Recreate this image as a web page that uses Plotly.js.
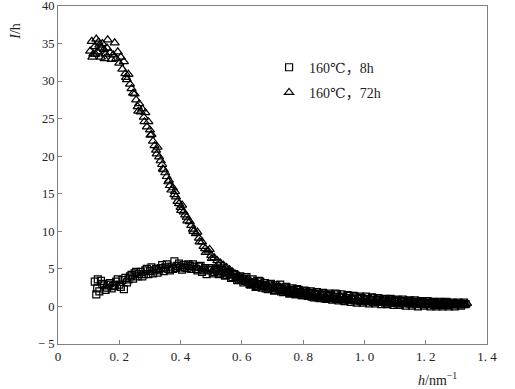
<!DOCTYPE html>
<html>
<head>
<meta charset="utf-8">
<script src="https://cdn.plot.ly/plotly-3.0.1.min.js"></script>
<style>html,body{margin:0;padding:0;background:#fff;}#chart{width:515px;height:389px;}</style>
</head>
<body>
<div id="chart"></div>
<script>
// Series 1: 160℃, 8h (squares)
const hSquare = [0.12,0.125,0.13,0.135,0.14,0.15,0.16,0.17,0.18,0.19,0.20,0.21,0.215,0.22,0.23,0.24,0.25,0.26,0.27,0.28,0.29,0.30,0.31,0.32,0.33,0.34,0.35,0.36,0.37,0.38,0.39,0.40,0.41,0.42,0.43,0.44,0.45,0.46,0.47,0.48,0.49,0.50,0.51,0.52,0.53,0.54,0.55,0.56,0.57,0.58,0.59,0.60,0.61,0.62,0.63,0.64,0.65,0.66,0.67,0.68,0.69,0.70,0.71,0.72,0.73,0.74,0.75,0.76,0.77,0.78,0.79,0.80,0.81,0.82,0.83,0.84,0.85,0.86,0.87,0.88,0.89,0.90,0.91,0.92,0.93,0.94,0.95,0.96,0.97,0.98,0.99,1.00,1.01,1.02,1.03,1.04,1.05,1.06,1.07,1.08,1.09,1.10,1.11,1.12,1.13,1.14,1.15,1.16,1.17,1.18,1.19,1.20,1.21,1.22,1.23,1.24,1.25,1.26,1.27,1.28,1.29,1.30,1.31,1.32,1.33];
const iSquare = [3.3,1.6,3.6,2.0,3.4,2.8,2.5,3.1,2.7,3.3,2.9,3.5,2.3,3.8,3.6,4.2,4.4,4.0,4.6,4.3,5.0,4.7,4.4,5.0,4.9,5.5,5.2,5.0,5.3,6.0,5.4,5.2,5.5,5.1,5.4,5.6,5.0,5.3,4.6,5.1,4.8,4.9,4.6,4.7,4.4,4.5,4.2,4.3,3.9,3.9,3.6,3.7,3.4,3.3,3.1,3.2,2.9,3.3,2.8,2.7,2.9,2.5,2.8,2.4,2.3,2.5,2.1,2.2,2.0,2.3,1.9,1.8,2.0,1.7,1.8,1.6,1.7,1.5,1.6,1.4,1.5,1.3,1.6,1.2,1.3,1.1,1.4,1.0,1.2,1.0,1.1,0.9,1.0,0.8,1.1,0.9,0.8,0.9,0.7,0.8,0.7,0.8,0.6,0.7,0.6,0.7,0.5,0.6,0.5,0.6,0.4,0.5,0.4,0.5,0.4,0.5,0.3,0.4,0.4,0.3,0.4,0.3,0.4,0.3,0.3];
const hSquareB = [0.128,0.145,0.155,0.165,0.175,0.185,0.195,0.205,0.225,0.235,0.245,0.255,0.265,0.275,0.285,0.295,0.305,0.315,0.325,0.335,0.345,0.355,0.365,0.375,0.385,0.395,0.405,0.415,0.425,0.435,0.445,0.455,0.465,0.475,0.485,0.495,0.505,0.515,0.525,0.535,0.545,0.555,0.565,0.575,0.585,0.595,0.605,0.615,0.625,0.635,0.645,0.655,0.665,0.675,0.685,0.695,0.705,0.715,0.725,0.735,0.745,0.755,0.765,0.775,0.785,0.795,0.805,0.815,0.825,0.835,0.845,0.855,0.865,0.875,0.885,0.895,0.905,0.915,0.925,0.935,0.945,0.955,0.965,0.975,0.985,0.995,1.005,1.015,1.025,1.035,1.045,1.055,1.065,1.075,1.085,1.095,1.105,1.115,1.125,1.135,1.145,1.155,1.165,1.175,1.185,1.195,1.205,1.215,1.225,1.235,1.245,1.255,1.265,1.275,1.285,1.295,1.305,1.315,1.325];
const iSquareB = [2.4,3.0,2.2,2.9,2.4,2.8,3.6,2.6,3.2,4.0,3.7,4.6,4.3,4.0,4.8,4.3,5.2,4.8,4.5,5.1,4.7,5.6,4.8,5.0,5.1,5.7,4.9,5.2,5.6,5.0,5.3,4.8,5.4,4.9,4.3,5.1,4.4,5.0,4.3,4.8,4.1,4.6,3.8,4.3,3.5,4.0,3.2,3.9,3.0,3.6,2.6,3.4,2.5,3.1,2.3,3.0,2.1,2.6,2.9,1.9,2.6,1.7,2.4,1.6,2.2,1.5,2.1,1.4,2.0,1.2,1.9,1.1,1.8,1.0,1.7,0.9,1.7,0.8,1.6,0.7,1.5,0.6,1.4,0.5,1.3,0.5,1.3,0.4,1.2,0.4,1.1,0.3,1.0,0.3,1.0,0.2,0.9,0.2,0.9,0.1,0.8,0.1,0.8,0.0,0.7,0.1,0.7,0.0,0.6,0.0,0.6,0.0,0.6,0.0,0.5,0.0,0.5,0.1,0.5];

// Series 2: 160℃, 72h (triangles)
const hTriangle = [0.105,0.11,0.115,0.12,0.125,0.13,0.135,0.14,0.145,0.15,0.155,0.16,0.17,0.175,0.18,0.185,0.19,0.195,0.20,0.205,0.21,0.215,0.22,0.225,0.23,0.235,0.24,0.25,0.255,0.26,0.265,0.27,0.275,0.28,0.285,0.29,0.295,0.30,0.305,0.31,0.315,0.32,0.325,0.33,0.335,0.34,0.345,0.35,0.355,0.36,0.365,0.37,0.375,0.38,0.385,0.39,0.395,0.40,0.405,0.41,0.415,0.42,0.43,0.435,0.44,0.45,0.455,0.46,0.47,0.475,0.48,0.49,0.495,0.50,0.51,0.52,0.53,0.54,0.55,0.56,0.57,0.58,0.59,0.60,0.615,0.625,0.635,0.645,0.655,0.665,0.675,0.685,0.695,0.705,0.715,0.725,0.735,0.745,0.755,0.765,0.775,0.785,0.795,0.805,0.815,0.825,0.835,0.845,0.855,0.865,0.875,0.885,0.895,0.905,0.915,0.925,0.935,0.945,0.955,0.965,0.975,0.985,0.995,1.005,1.015,1.025,1.035,1.045,1.055,1.065,1.075,1.085,1.095,1.105,1.115,1.125,1.135,1.145,1.155,1.165,1.175,1.185,1.195,1.205,1.215,1.225,1.235,1.245,1.255,1.265,1.275,1.285,1.295,1.305,1.315,1.325,1.335];
const iTriangle = [34.0,35.3,33.6,34.6,35.6,33.9,34.8,33.2,35.0,34.2,33.6,34.4,33.8,32.9,33.5,35.1,33.0,33.9,32.4,33.2,31.6,32.6,31.0,30.2,30.9,29.6,29.0,28.3,27.5,26.6,27.0,25.9,26.3,25.2,25.8,23.9,24.6,23.5,22.9,22.0,21.4,20.8,21.2,19.9,19.4,18.9,18.2,17.8,17.3,16.6,16.1,15.5,15.8,14.9,14.6,14.0,13.7,13.2,13.5,12.6,12.2,11.9,11.3,10.8,10.3,9.7,9.9,9.1,8.6,8.0,7.7,7.4,7.6,6.8,6.5,6.1,5.8,5.5,5.2,4.9,4.6,4.3,4.1,3.8,3.6,3.2,3.0,2.8,3.0,2.6,2.5,2.7,2.3,2.2,2.4,2.0,2.1,1.8,1.9,1.7,1.6,1.8,1.5,1.4,1.6,1.3,1.4,1.2,1.3,1.1,1.2,1.0,1.1,0.9,1.0,0.8,0.9,0.8,0.7,0.9,0.7,0.6,0.8,0.6,0.7,0.5,0.6,0.5,0.6,0.4,0.5,0.4,0.5,0.3,0.4,0.3,0.4,0.3,0.2,0.3,0.2,0.3,0.2,0.3,0.1,0.2,0.2,0.1,0.2,0.1,0.2,0.1,0.2,0.1,0.2,0.2,0.4];
const hTriangleB = [0.112,0.122,0.132,0.142,0.152,0.162,0.222,0.245,0.262,0.282,0.302,0.322,0.342,0.362,0.382,0.402,0.422,0.442,0.462,0.482,0.502,0.522,0.542,0.562,0.582,0.598,0.61,0.62,0.63,0.64,0.65,0.66,0.67,0.68,0.69,0.70,0.71,0.72,0.73,0.74,0.75,0.76,0.77,0.78,0.79,0.80,0.81,0.82,0.83,0.84,0.85,0.86,0.87,0.88,0.89,0.90,0.91,0.92,0.93,0.94,0.95,0.96,0.97,0.98,0.99,1.00,1.01,1.02,1.03,1.04,1.05,1.06,1.07,1.08,1.09,1.10,1.11,1.12,1.13,1.14,1.15,1.16,1.17,1.18,1.19,1.20,1.21,1.22,1.23,1.24,1.25,1.26,1.27,1.28,1.29,1.30,1.31,1.32,1.33];
const iTriangleB = [33.2,33.6,35.2,34.4,33.0,35.5,30.5,28.4,26.0,24.6,22.8,20.3,18.3,16.8,15.3,12.8,11.4,10.0,8.6,7.2,6.4,5.6,5.0,4.4,3.9,3.5,3.3,3.7,2.7,3.4,2.5,3.0,2.9,2.2,2.6,2.8,2.0,2.6,1.8,2.3,2.4,1.6,2.2,1.5,2.1,1.3,1.9,1.8,1.1,1.7,1.0,1.6,0.9,1.5,0.9,1.4,0.8,1.4,0.7,1.3,0.7,1.2,0.6,1.2,0.5,1.1,0.5,1.0,0.4,1.0,0.4,0.9,0.3,0.9,0.3,0.8,0.2,0.8,0.2,0.7,0.2,0.7,0.1,0.6,0.1,0.6,0.1,0.6,0.0,0.5,0.0,0.5,0.0,0.5,0.1,0.4,0.1,0.4,0.2];

const xTickVals = [0,0.2,0.4,0.6,0.8,1.0,1.2,1.4];
const xTickText = ["0","0. 2","0. 4","0. 6","0. 8","1. 0","1. 2","1. 4"];
const yTickVals = [-5,0,5,10,15,20,25,30,35,40];
const yTickText = ["− 5","0","5","10","15","20","25","30","35","40"];

const FONT = "'Liberation Serif','DejaVu Serif','Noto Sans CJK SC',serif";
const AX = "#808080";

const traces = [
  {x: hSquare.concat(hSquareB), y: iSquare.concat(iSquareB), type: "scatter", mode: "markers", name: "160℃，8h", legendgroup: "a",
   marker: {symbol: "square-open", size: 7, color: "#000", line: {width: 1.2, color: "#000"}}},
  {x: hTriangle.concat(hTriangleB), y: iTriangle.concat(iTriangleB), type: "scatter", mode: "markers", name: "160℃，72h", legendgroup: "b",
   marker: {symbol: "triangle-up-open", size: 8, color: "#000", line: {width: 1.2, color: "#000"}}}
];

const layout = {
  width: 515, height: 389,
  margin: {l: 58, r: 28, t: 6, b: 45},
  paper_bgcolor: "#fff", plot_bgcolor: "#fff",
  font: {family: FONT, size: 13, color: "#222"},
  showlegend: true,
  legend: {x: 0.492, y: 0.865, xanchor: "left", yanchor: "top", bgcolor: "rgba(0,0,0,0)",
           font: {family: FONT, size: 14, color: "#222"}, traceorder: "grouped", tracegroupgap: 4, itemwidth: 30},
  xaxis: {range: [0, 1.4], showgrid: false, zeroline: false, showline: true, mirror: true,
          linecolor: AX, linewidth: 1, ticks: "inside", ticklen: 4, tickcolor: AX,
          tickfont: {size: 13}, tickmode: "array", tickvals: xTickVals, ticktext: xTickText, ticklabeloverflow: "allow"},
  yaxis: {range: [-5, 40], showgrid: false, zeroline: false, showline: true, mirror: true,
          linecolor: AX, linewidth: 1, ticks: "inside", ticklen: 4, tickcolor: AX,
          tickfont: {size: 12.5}, tickmode: "array", tickvals: yTickVals, ticktext: yTickText, ticklabeloverflow: "allow"},
  annotations: [
    {xref: "paper", yref: "paper", x: -0.12, y: 0.955, text: "<i>I</i>/h", showarrow: false,
     textangle: -90, font: {family: FONT, size: 14, color: "#222"}},
    {xref: "paper", yref: "paper", x: 0.935, y: -0.105, yanchor: "middle", text: "<i>h</i>/nm<sup>−1</sup>", showarrow: false,
     font: {family: FONT, size: 14, color: "#222"}}
  ]
};

Plotly.newPlot("chart", traces, layout, {displayModeBar: false, staticPlot: true});
</script>
</body>
</html>
